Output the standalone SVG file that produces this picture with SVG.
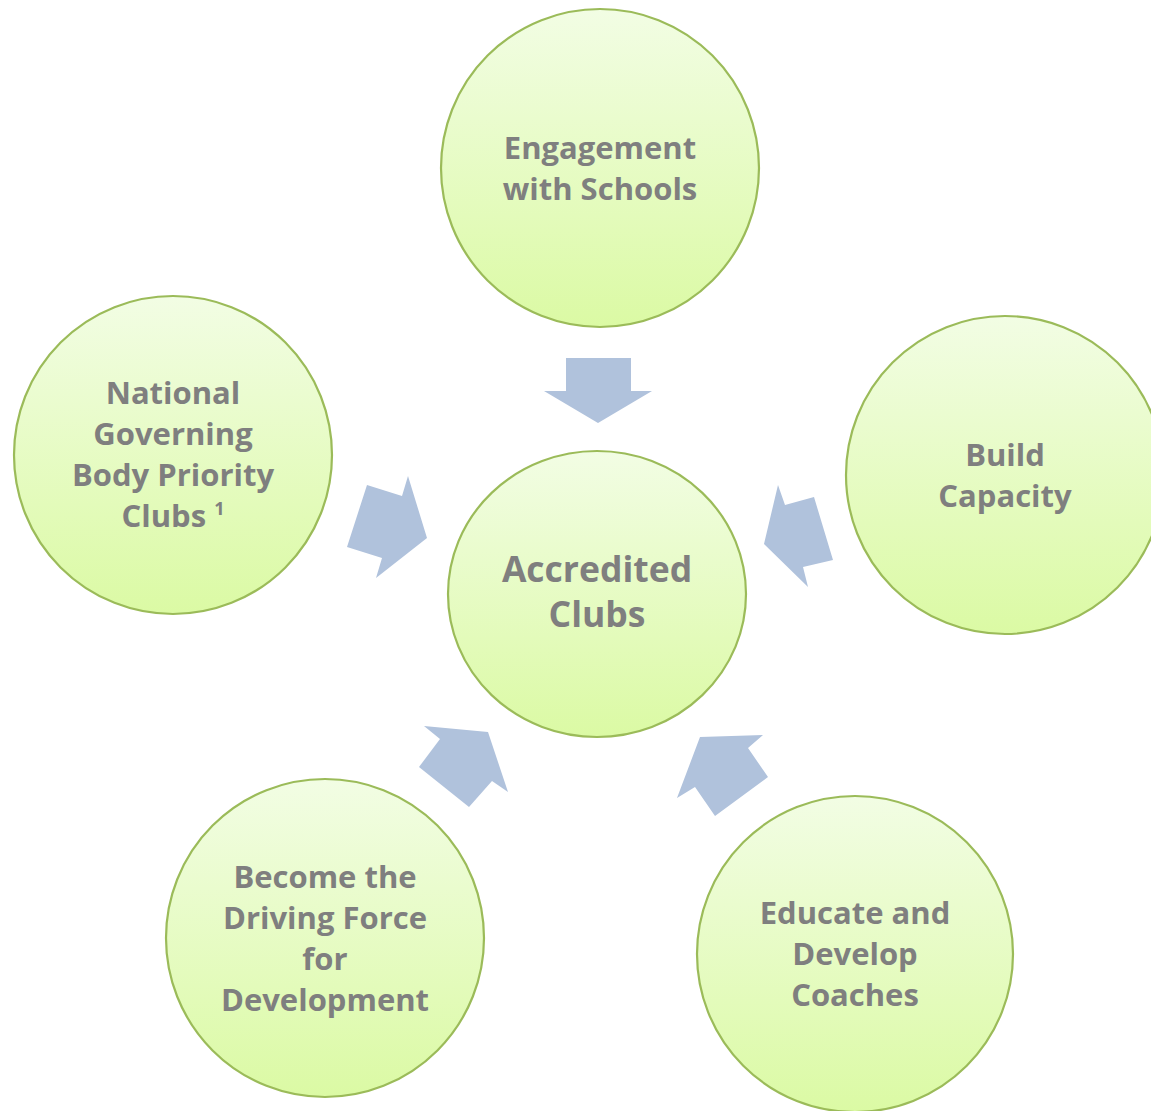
<svg xmlns="http://www.w3.org/2000/svg" width="1151" height="1111" viewBox="0 0 1151 1111">
<defs>
<linearGradient id="g" x1="0" y1="0" x2="0" y2="1">
<stop offset="0" stop-color="#f2fde4"/>
<stop offset="1" stop-color="#dbfaa4"/>
</linearGradient>
</defs>
<style>
.c{fill:url(#g);stroke:#9bbb59;stroke-width:2.2}
.t{font-family:"Open Sans","Liberation Sans",sans-serif;font-weight:bold;font-size:31px;fill:#7f7f7f;text-anchor:middle}
.big{font-size:35.5px}
.a{fill:#b0c2dc;stroke:none}
</style>
<rect width="1151" height="1111" fill="#ffffff"/>
<g id="connectors">
<polygon class="a" points="566,358 631,358 631,391 652,391 598,423 544,391 566,391"/>
<polygon class="a" points="367,485 402,496 408,476 427,538 376,578 382,558 347,547"/>
<polygon class="a" points="778,485 785,505 814,497 833,560 803,567 808,587 764,544"/>
<polygon class="a" points="424,726 488,732 508,792 492,781 469,807 419,767 440,739"/>
<polygon class="a" points="700,737 763,735 748,748 768,777 715,816 695,787 677,798"/>
</g>
<g id="node-top">
<circle class="c" cx="600" cy="168" r="159"/>
<text class="t" x="600" y="159">Engagement</text>
<text class="t" x="600" y="200">with Schools</text>
</g>
<g id="node-left">
<circle class="c" cx="173" cy="455" r="159"/>
<text class="t" x="173" y="404">National</text>
<text class="t" x="173" y="445">Governing</text>
<text class="t" x="173" y="486">Body Priority</text>
<text class="t" x="173" y="527">Clubs <tspan font-size="18" dy="-12">1</tspan></text>
</g>
<g id="node-right">
<circle class="c" cx="1005" cy="475" r="159"/>
<text class="t" x="1005" y="466">Build</text>
<text class="t" x="1005" y="507">Capacity</text>
</g>
<g id="node-center">
<ellipse class="c" cx="597" cy="594" rx="149" ry="143"/>
<text class="t big" x="597" y="582">Accredited</text>
<text class="t big" x="597" y="627">Clubs</text>
</g>
<g id="node-bottom-left">
<circle class="c" cx="325" cy="938" r="159"/>
<text class="t" x="325" y="888">Become the</text>
<text class="t" x="325" y="929">Driving Force</text>
<text class="t" x="325" y="970">for</text>
<text class="t" x="325" y="1011">Development</text>
</g>
<g id="node-bottom-right">
<circle class="c" cx="855" cy="954" r="158"/>
<text class="t" x="855" y="924">Educate and</text>
<text class="t" x="855" y="965">Develop</text>
<text class="t" x="855" y="1006">Coaches</text>
</g>
</svg>
